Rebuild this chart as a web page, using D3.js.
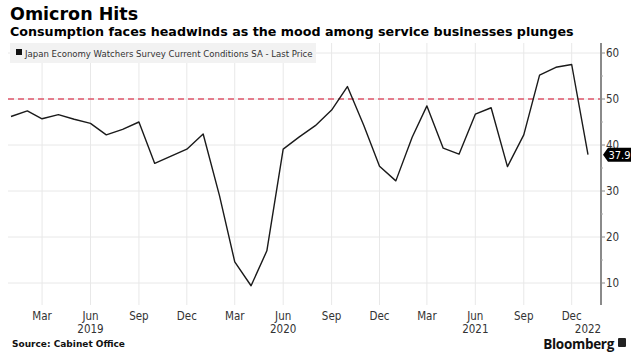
<!DOCTYPE html>
<html><head><meta charset="utf-8">
<script src="https://cdn.jsdelivr.net/npm/d3@7"></script>
<style>
html,body{margin:0;padding:0;background:#fff;}
svg{display:block;}
</style></head>
<body>
<script>
const title = "Omicron Hits";
const subtitle = "Consumption faces headwinds as the mood among service businesses plunges";
const seriesName = "Japan Economy Watchers Survey Current Conditions SA - Last Price";
const source = "Source: Cabinet Office";
// monthly, Jan 2019 .. Jan 2022
const months = ["2019-01","2019-02","2019-03","2019-04","2019-05","2019-06","2019-07","2019-08","2019-09","2019-10","2019-11","2019-12",
"2020-01","2020-02","2020-03","2020-04","2020-05","2020-06","2020-07","2020-08","2020-09","2020-10","2020-11","2020-12",
"2021-01","2021-02","2021-03","2021-04","2021-05","2021-06","2021-07","2021-08","2021-09","2021-10","2021-11","2021-12","2022-01"];
const values = [46.2,47.4,45.7,46.6,45.6,44.7,42.2,43.4,45.0,36.0,37.6,39.1,
42.4,29.0,14.6,9.4,17.0,39.1,41.7,44.2,47.6,52.7,44.3,35.4,
32.2,41.7,48.5,39.3,38.0,46.7,48.1,35.3,42.2,55.2,56.9,57.5,37.9];
const yTicks = [10,20,30,40,50,60];
const yMinor = [15,25,35,45,55];
const refLevel = 50;
const xTickMonths = ["2019-03","2019-06","2019-09","2019-12","2020-03","2020-06","2020-09","2020-12","2021-03","2021-06","2021-09","2021-12"];
const xTickLabels = ["Mar","Jun","Sep","Dec","Mar","Jun","Sep","Dec","Mar","Jun","Sep","Dec"];
const yearLabels = ["2019","2020","2021","2022"];
const yearPositions = ["2019-06","2020-06","2021-06","2022-01"];
const lastLabel = "37.9";

const W = 636, H = 364;
const parse = d3.timeParse("%Y-%m");
const svg = d3.select("body").append("svg").attr("width", W).attr("height", H);

const plot = {left: 8, right: 601, top: 43, bottom: 305};
const x = d3.scaleTime().domain([parse("2019-01"), parse("2022-01")]).range([11, 588]);
const y = d3.scaleLinear().domain([10, 60]).range([283, 53]);

const fontMain = "'DejaVu Sans', sans-serif";
const fontAxis = "'DejaVu Sans Condensed', 'DejaVu Sans', sans-serif";

// gridlines
const g = svg.append("g");
g.selectAll("line.vg").data(xTickMonths).join("line")
  .attr("x1", d => x(parse(d))).attr("x2", d => x(parse(d)))
  .attr("y1", plot.top).attr("y2", plot.bottom)
  .attr("stroke", "#e8e8e8").attr("stroke-width", 1);
g.selectAll("line.hg").data(yTicks).join("line")
  .attr("x1", plot.left).attr("x2", plot.right)
  .attr("y1", d => y(d)).attr("y2", d => y(d))
  .attr("stroke", "#e8e8e8").attr("stroke-width", 1);

// legend box
svg.append("rect").attr("x", 10).attr("y", 43).attr("width", 306).attr("height", 20).attr("fill", "#f2f2f2");
svg.append("rect").attr("x", 16).attr("y", 49).attr("width", 6).attr("height", 6).attr("fill", "#111");
svg.append("text").attr("x", 25).attr("y", 56.5).text(seriesName)
  .attr("font-family", fontAxis).attr("font-size", 9.5).attr("fill", "#333");

// reference line
svg.append("line").attr("x1", plot.left).attr("x2", plot.right)
  .attr("y1", y(refLevel)).attr("y2", y(refLevel))
  .attr("stroke", "#e0566a").attr("stroke-width", 1.5).attr("stroke-dasharray", "6,4");

// data line
const data = months.map((m, i) => ({d: parse(m), v: values[i]}));
svg.append("path").datum(data)
  .attr("fill", "none").attr("stroke", "#1a1a1a").attr("stroke-width", 1.4)
  .attr("stroke-linejoin", "round")
  .attr("d", d3.line().x(d => x(d.d)).y(d => y(d.v)));

// right axis
const ax = svg.append("g");
ax.append("line").attr("x1", plot.right).attr("x2", plot.right).attr("y1", plot.top).attr("y2", plot.bottom)
  .attr("stroke", "#8a8a8a").attr("stroke-width", 2);
ax.selectAll("line.mt").data(yTicks).join("line")
  .attr("x1", plot.right).attr("x2", plot.right + 4).attr("y1", d => y(d)).attr("y2", d => y(d))
  .attr("stroke", "#8a8a8a").attr("stroke-width", 1);
ax.selectAll("line.mn").data(yMinor).join("line")
  .attr("x1", plot.right).attr("x2", plot.right + 2).attr("y1", d => y(d)).attr("y2", d => y(d))
  .attr("stroke", "#aaa").attr("stroke-width", 1);
ax.selectAll("text").data(yTicks).join("text")
  .attr("x", plot.right + 5).attr("y", d => y(d) + 4)
  .text(d => d).attr("font-family", fontAxis).attr("font-size", 11.5).attr("fill", "#333");

// last value tag
const ly = y(values[values.length - 1]);
svg.append("path")
  .attr("d", `M${plot.right + 2},${ly} L${plot.right + 7},${ly - 7} L${plot.right + 30},${ly - 7} L${plot.right + 30},${ly + 7} L${plot.right + 7},${ly + 7} Z`)
  .attr("fill", "#000");
svg.append("text").attr("x", plot.right + 18.5).attr("y", ly + 4).attr("text-anchor", "middle")
  .text(lastLabel).attr("font-family", fontAxis).attr("font-size", 11).attr("fill", "#fff");

// x axis labels
svg.selectAll("text.xl").data(xTickMonths).join("text")
  .attr("x", (d) => x(parse(d))).attr("y", 320).attr("text-anchor", "middle")
  .text((d, i) => xTickLabels[i]).attr("font-family", fontAxis).attr("font-size", 11.5).attr("fill", "#333");
svg.selectAll("text.yl").data(yearPositions).join("text")
  .attr("x", (d) => x(parse(d))).attr("y", 333).attr("text-anchor", "middle")
  .text((d, i) => yearLabels[i]).attr("font-family", fontAxis).attr("font-size", 11.5).attr("fill", "#333");

// titles
svg.append("text").attr("x", 10).attr("y", 20).text(title)
  .attr("font-family", fontMain).attr("font-weight", "bold").attr("font-size", 17.5).attr("fill", "#000");
svg.append("text").attr("x", 10).attr("y", 36).text(subtitle)
  .attr("font-family", fontMain).attr("font-weight", "bold").attr("font-size", 12.7).attr("fill", "#000");

// footer
svg.append("text").attr("x", 12).attr("y", 346.5).text(source)
  .attr("font-family", fontMain).attr("font-weight", "bold").attr("font-size", 9).attr("fill", "#111");
svg.append("text").attr("x", 614).attr("y", 349).attr("text-anchor", "end").text("Bloomberg")
  .attr("font-family", "'Open Sans', 'DejaVu Sans', sans-serif").attr("font-weight", "bold").attr("font-size", 13.5).attr("fill", "#111").attr("letter-spacing", -0.3);
svg.append("rect").attr("x", 618).attr("y", 338).attr("width", 8).attr("height", 9).attr("rx", 1).attr("fill", "#222");
</script>
</body></html>
